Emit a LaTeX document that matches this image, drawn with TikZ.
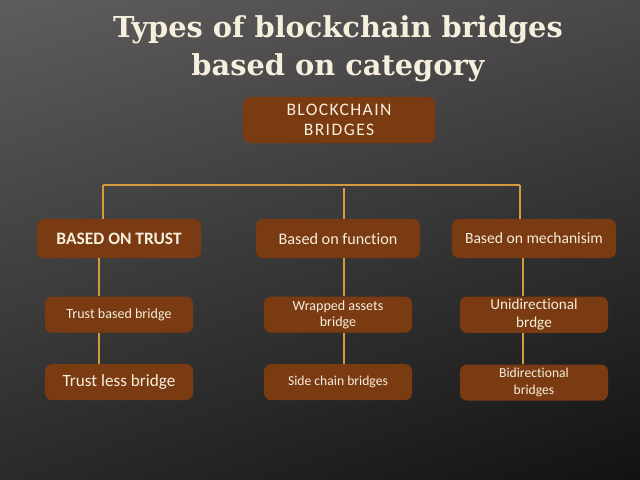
\documentclass[tikz,border=0pt]{standalone}
\usepackage{fontspec}
\setmainfont[Ligatures=NoCommon]{Carlito}
\newfontfamily\titlefont{DejaVu Serif}
\usetikzlibrary{positioning,calc,shadings}
\definecolor{bgtl}{HTML}{5E5C5C}
\definecolor{bgtr}{HTML}{4A4848}
\definecolor{bgbl}{HTML}{2A2A2A}
\definecolor{bgbr}{HTML}{121212}
\definecolor{boxfill}{HTML}{7A3A12}
\definecolor{linkline}{HTML}{D39A3E}
\definecolor{boxtext}{HTML}{F6EFDD}
\tikzset{
  cat/.style={fill=boxfill, rounded corners=5pt, text=boxtext, align=center, inner sep=2pt,
              minimum width=4.1cm, minimum height=0.975cm, font=\fontsize{11.5}{13}\selectfont},
  leaf/.style={cat, minimum width=3.7cm, minimum height=0.9cm, font=\fontsize{10}{11.5}\selectfont},
  link/.style={draw=linkline, line width=1.2pt},
}

\begin{document}
\begin{tikzpicture}[x=0.025cm, y=-0.025cm]
  \shade[upper left=bgtl, upper right=bgtr, lower left=bgbl, lower right=bgbr] (0,0) rectangle (640,480);
  \useasboundingbox (0,0) rectangle (640,480);
  \node[text=boxtext, align=center, font=\titlefont\bfseries\fontsize{20.5}{27}\selectfont] (title) at (338,49) {Types of blockchain bridges\\based on category};
  \node[cat, minimum width=4.8cm, minimum height=1.15cm, font=\fontsize{12.5}{14.5}\selectfont\addfontfeature{LetterSpace=8}] (root) at (339,120) {BLOCKCHAIN\\BRIDGES};
  \node[cat, font=\bfseries\fontsize{12.4}{14}\selectfont] (trust) at (119,238.5) {BASED ON TRUST};
  \node[cat] (func) at (338,238.5) {Based on function};
  \node[cat, font=\fontsize{11.1}{13}\selectfont] (mech) at (534,238.5) {Based on mechanisim};
  \node[leaf, below=0.95cm of trust] (tbased) {Trust based bridge};
  \node[leaf, below=0.775cm of tbased, font=\fontsize{12.2}{14}\selectfont] (tless) {Trust less bridge};
  \node[leaf, below=0.95cm of func] (wrap) {Wrapped assets\\bridge};
  \node[leaf, below=0.775cm of wrap, font=\fontsize{9.7}{11.5}\selectfont] (side) {Side chain bridges};
  \node[leaf, below=0.95cm of mech, font=\fontsize{10.8}{12.5}\selectfont] (uni) {Unidirectional\\brdge};
  \node[leaf, below=0.775cm of uni, font=\fontsize{9.7}{11.5}\selectfont] (bi) {Bidirectional\\bridges};
  \coordinate (busL) at (103,185);
  \coordinate (busM) at (344,188);
  \coordinate (busR) at (520,185);
  \coordinate (colL) at (99,0);
  \coordinate (colM) at (344,0);
  \coordinate (colR) at (523,0);
  \draw[link] (busL) -- (busR);
  \foreach \b/\n in {busL/trust, busM/func, busR/mech} \draw[link] (\b) -- (\n.north -| \b);
  \foreach \a/\b/\c in {trust/tbased/colL, tbased/tless/colL, func/wrap/colM, wrap/side/colM, mech/uni/colR, uni/bi/colR}
    \draw[link] (\a.south -| \c) -- (\b.north -| \c);
\end{tikzpicture}
\end{document}
